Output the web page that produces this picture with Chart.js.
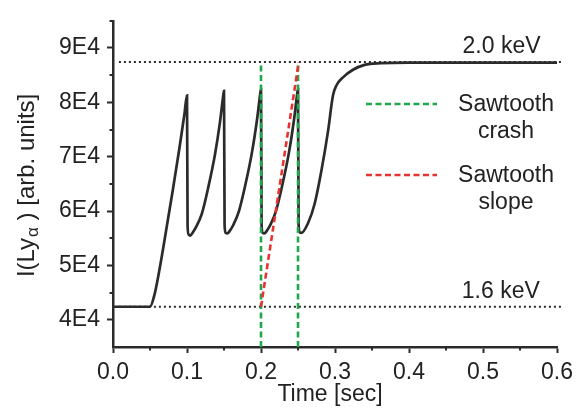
<!DOCTYPE html>
<html>
<head>
<meta charset="utf-8">
<script src="https://cdn.jsdelivr.net/npm/chart.js@4.4.1/dist/chart.umd.min.js"></script>
<style>
  html, body { margin: 0; padding: 0; background: #fff; }
  canvas { display: block; }
</style>
</head>
<body>
<canvas id="lyChart" width="579" height="411"></canvas>
<script>
// signal
const timeSec = [
  0, 0.05, 0.056, 0.063, 0.072, 0.081, 0.09, 0.0965, 0.1,
  0.1008, 0.1022, 0.1045, 0.108, 0.112, 0.12, 0.1288, 0.1378, 0.1446, 0.1492, 0.15,
  0.1508, 0.1522, 0.1545, 0.158, 0.162, 0.17, 0.1788, 0.1878, 0.1946, 0.1992, 0.2,
  0.2008, 0.2022, 0.2045, 0.208, 0.212, 0.22, 0.2288, 0.2378, 0.2446, 0.2492, 0.25,
  0.2508, 0.2522, 0.2547, 0.2636, 0.2726, 0.2816, 0.2906, 0.2973, 0.3019, 0.3108, 0.3243, 0.34, 0.3625, 0.4, 0.6
];
const intensity = [
  42400, 42400, 44600, 49400, 56600, 64000, 71800, 77800, 81300,
  57200, 55700, 55500, 56100, 57000, 59500, 64400, 70400, 76400, 81500, 82100,
  57400, 56000, 55900, 56400, 57300, 59900, 64800, 70800, 76800, 81800, 82400,
  57400, 56000, 55900, 56400, 57300, 59900, 64800, 70800, 76800, 81800, 82400,
  57500, 56100, 56000, 57800, 61400, 67400, 74700, 81300, 83100, 84600, 86000, 86900, 87200, 87300, 87300
];

// 1.6 keV and 2.0 keV levels
const levelTime = [0.008, 0.607];
const lowLevel = 42400;
const highLevel = 87400;

// sawtooth crash times and slope line
const crashTimes = [0.2, 0.25];
const slopeTime = [0.2, 0.251];
const slopeValue = [42400, 87400];

const yMin = 35000, yMax = 95000;

const ink = '#2b2b2b';
const green = '#1ea84c';
const red = '#e8322f';
const fontName = '"Liberation Sans", Arial, sans-serif';

const curve = timeSec.map((t, i) => ({ x: t, y: intensity[i] }));

let datasets = [];
datasets.push({
  label: 'slope',
  data: slopeTime.map((t, i) => ({ x: t, y: slopeValue[i] })),
  borderColor: red, borderWidth: 2.6, borderDash: [6, 3.5], pointRadius: 0
});
crashTimes.forEach(t => {
  datasets.push({
    label: 'crash',
    data: [{ x: t, y: yMin }, { x: t, y: highLevel }],
    borderColor: green, borderWidth: 2.6, borderDash: [6, 3.5], pointRadius: 0
  });
});
datasets.push({
  label: 'I(Lya)',
  data: curve,
  borderColor: ink, borderWidth: 2.7, pointRadius: 0,
  cubicInterpolationMode: 'monotone'
});
[lowLevel, highLevel].forEach(v => {
  datasets.push({
    label: 'level',
    data: levelTime.map(t => ({ x: t, y: v })),
    borderColor: ink, borderWidth: 2, borderDash: [2, 3], pointRadius: 0,
    clip: false
  });
});

function isMajor(v, step) {
  return Math.abs(v / step - Math.round(v / step)) < 1e-6;
}

const extras = {
  id: 'extras',
  afterDraw(chart) {
    const ctx = chart.ctx;
    const xs = chart.scales.x, ys = chart.scales.y;
    ctx.save();

    // minor ticks
    ctx.strokeStyle = ink;
    ctx.lineWidth = 2;
    ctx.beginPath();
    for (let t = 0.05; t < 0.6; t += 0.1) {
      const px = Math.round(xs.getPixelForValue(t));
      ctx.moveTo(px, ys.bottom);
      ctx.lineTo(px, ys.bottom + 3.5);
    }
    for (let v = 45000; v <= 95000; v += 10000) {
      const py = Math.round(ys.getPixelForValue(v));
      ctx.moveTo(xs.left, py);
      ctx.lineTo(xs.left - 3.5, py);
    }
    ctx.stroke();

    ctx.fillStyle = '#222';
    ctx.font = '23px ' + fontName;
    ctx.textAlign = 'center';
    ctx.textBaseline = 'middle';

    // level labels
    ctx.fillText('2.0 keV', xs.getPixelForValue(0.525), ys.getPixelForValue(highLevel) - 15);
    ctx.fillText('1.6 keV', xs.getPixelForValue(0.524), ys.getPixelForValue(lowLevel) - 15);

    // legend
    const items = [
      { color: green, lines: ['Sawtooth', 'crash'], y: 104 },
      { color: red, lines: ['Sawtooth', 'slope'], y: 175 }
    ];
    items.forEach(it => {
      ctx.strokeStyle = it.color;
      ctx.lineWidth = 2.6;
      ctx.setLineDash([6, 3.5]);
      ctx.beginPath();
      ctx.moveTo(366, it.y);
      ctx.lineTo(437, it.y);
      ctx.stroke();
      ctx.setLineDash([]);
      ctx.fillText(it.lines[0], 506, it.y + 1);
      ctx.fillText(it.lines[1], 506, it.y + 28);
    });

    // x title
    ctx.fillText('Time [sec]', (xs.left + xs.right) / 2 - 5, 395);

    // y title with subscript
    ctx.translate(27, (ys.top + ys.bottom) / 2 + 2);
    ctx.rotate(-Math.PI / 2);
    ctx.textAlign = 'left';
    ctx.textBaseline = 'middle';
    const bigFont = '24px ' + fontName;
    const smallFont = '17px ' + fontName;
    const partA = 'I(Ly', partB = '\u03B1', partC = ' ) [arb. units]';
    ctx.font = bigFont;
    const wA = ctx.measureText(partA).width, wC = ctx.measureText(partC).width;
    ctx.font = smallFont;
    const wB = ctx.measureText(partB).width;
    let x0 = -(wA + wB + wC) / 2;
    ctx.font = bigFont;
    ctx.fillText(partA, x0, 0);
    ctx.font = smallFont;
    ctx.fillText(partB, x0 + wA + 1, 6);
    ctx.font = bigFont;
    ctx.fillText(partC, x0 + wA + wB + 1, 0);

    ctx.restore();
  }
};

const lyChart = new Chart(document.getElementById('lyChart').getContext('2d'), {
  type: 'line',
  data: { datasets: datasets },
  options: {
    responsive: false,
    animation: false,
    layout: { padding: { top: 15, right: 21, left: 0, bottom: 0 } },
    plugins: {
      legend: { display: false },
      tooltip: { enabled: false }
    },
    scales: {
      x: {
        type: 'linear',
        min: 0,
        max: 0.6,
        afterFit: scale => { scale.height = 64; },
        border: { display: true, color: ink, width: 2.5 },
        grid: {
          drawOnChartArea: false,
          tickLength: 6,
          tickWidth: 2,
          tickColor: c => (c.tick && isMajor(c.tick.value, 0.1)) ? ink : 'rgba(0,0,0,0)'
        },
        ticks: {
          stepSize: 0.05,
          autoSkip: false,
          maxRotation: 0,
          padding: 6,
          color: '#222',
          font: { family: fontName, size: 23 },
          callback: v => isMajor(v, 0.1) ? v.toFixed(1) : ''
        }
      },
      y: {
        min: yMin,
        max: yMax,
        afterFit: scale => { scale.width = 113; },
        border: { display: true, color: ink, width: 2.5 },
        grid: {
          drawOnChartArea: false,
          tickLength: 6,
          tickWidth: 2,
          tickColor: c => (c.tick && isMajor(c.tick.value, 10000)) ? ink : 'rgba(0,0,0,0)'
        },
        ticks: {
          stepSize: 5000,
          autoSkip: false,
          padding: 7,
          color: '#222',
          font: { family: fontName, size: 23 },
          callback: v => isMajor(v, 10000) ? (v / 10000) + 'E4' : ''
        }
      }
    }
  },
  plugins: [extras]
});
</script>
</body>
</html>
